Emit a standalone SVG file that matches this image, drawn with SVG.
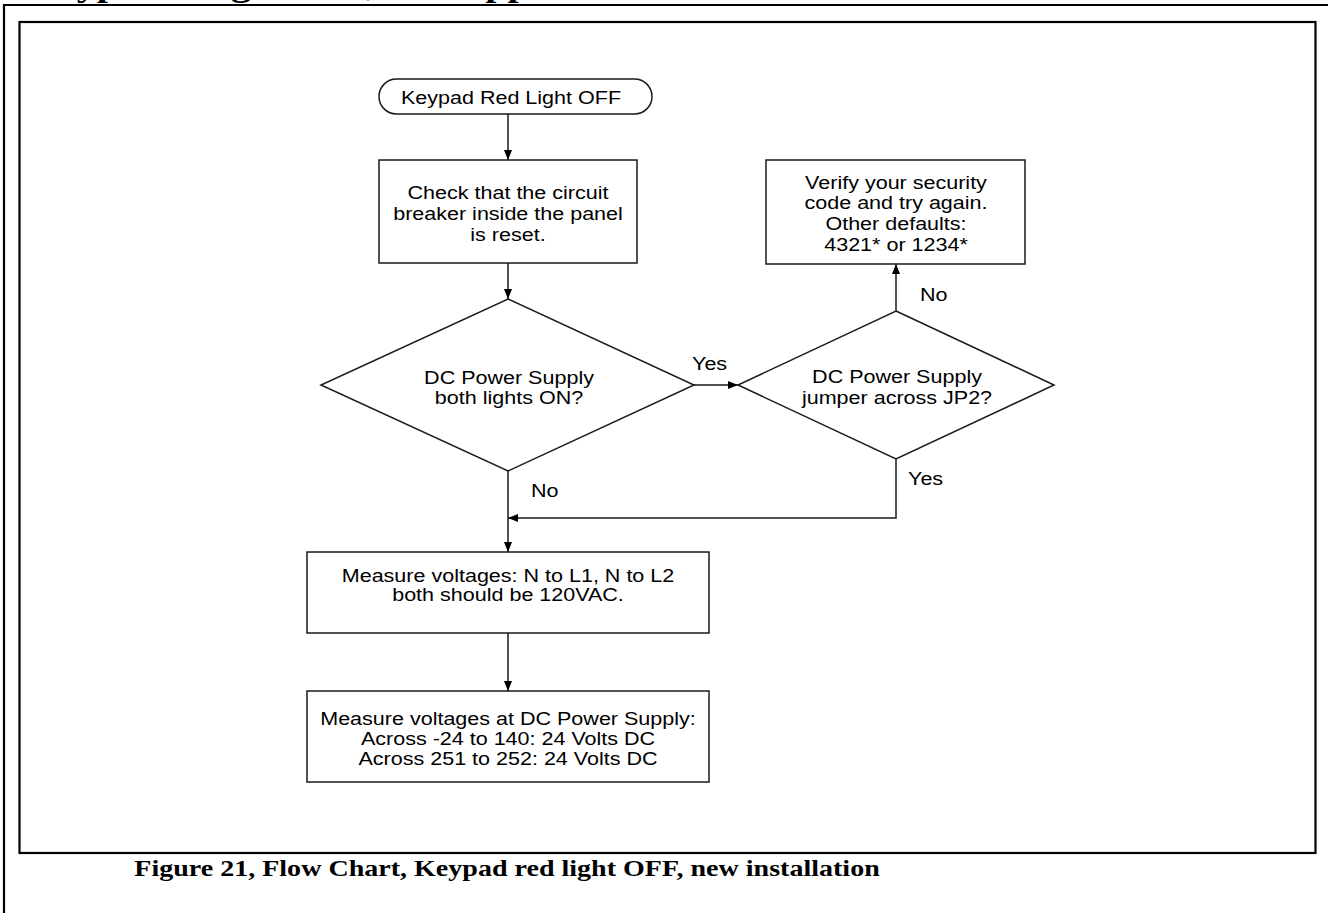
<svg xmlns="http://www.w3.org/2000/svg" width="1328" height="913" viewBox="0 0 1328 913">
<defs>
<style>
.frame{fill:none;stroke:#000;stroke-width:2.2}
.shape{fill:#fff;stroke:#1a1a1a;stroke-width:1.5}
.line{fill:none;stroke:#1a1a1a;stroke-width:1.5}
.t{font-family:"Liberation Sans",Arial,sans-serif;font-size:17.5px;fill:#000;text-anchor:middle}
.lbl{font-family:"Liberation Sans",Arial,sans-serif;font-size:17.5px;fill:#000}
.cap{font-family:"Liberation Serif","Times New Roman",serif;font-weight:bold;font-size:22.8px;fill:#000;text-anchor:middle}
.head{font-family:"Liberation Serif","Times New Roman",serif;font-weight:bold;font-size:32.5px;fill:#000}
</style>
<marker id="arr" viewBox="0 0 10 8" refX="10" refY="4" markerWidth="10" markerHeight="8" markerUnits="userSpaceOnUse" orient="auto">
<path d="M0,0 L10,4 L0,8 z" fill="#000"/>
</marker>
</defs>
<rect width="1328" height="913" fill="#fff"/>
<g transform="matrix(1.23 0 0 1 28 0)"><text class="head" x="0" y="-4">Keypad Diagnostics, new applications</text></g>
<path class="frame" d="M4,913 V5 H1328"/>
<rect class="frame" x="19.5" y="22" width="1296" height="831"/>

<g id="connectors">
<path class="line" d="M508,114 V160" marker-end="url(#arr)"/>
<path class="line" d="M508,263 V299" marker-end="url(#arr)"/>
<path class="line" d="M694,385 H738" marker-end="url(#arr)"/>
<path class="line" d="M896,311 V264" marker-end="url(#arr)"/>
<path class="line" d="M896,459 V518 H508" marker-end="url(#arr)"/>
<path class="line" d="M508,471 V552" marker-end="url(#arr)"/>
<path class="line" d="M508,633 V691" marker-end="url(#arr)"/>
<g transform="matrix(1.23 0 0 1 692 0)"><text class="lbl" x="0" y="370">Yes</text></g>
<g transform="matrix(1.23 0 0 1 920 0)"><text class="lbl" x="0" y="301">No</text></g>
<g transform="matrix(1.23 0 0 1 908 0)"><text class="lbl" x="0" y="485">Yes</text></g>
<g transform="matrix(1.23 0 0 1 531 0)"><text class="lbl" x="0" y="497">No</text></g>
</g>

<g id="start">
<rect class="shape" x="379" y="79" width="273" height="35" rx="17.5" ry="17.5"/>
<g transform="matrix(1.23 0 0 1 511 0)"><text class="t" x="0" y="104">Keypad Red Light OFF</text></g>
</g>
<g id="check-breaker">
<rect class="shape" x="379" y="160" width="258" height="103"/>
<g transform="matrix(1.23 0 0 1 508 0)">
<text class="t" x="0" y="199">Check that the circuit</text>
<text class="t" x="0" y="220">breaker inside the panel</text>
<text class="t" x="0" y="241">is reset.</text>
</g>
</g>
<g id="dc-lights">
<polygon class="shape" points="508,299 694,385 508,471 321,385"/>
<g transform="matrix(1.23 0 0 1 509 0)">
<text class="t" x="0" y="384">DC Power Supply</text>
<text class="t" x="0" y="404">both lights ON?</text>
</g>
</g>
<g id="jp2">
<polygon class="shape" points="896,311 1054,385 896,459 738,385"/>
<g transform="matrix(1.23 0 0 1 897 0)">
<text class="t" x="0" y="383">DC Power Supply</text>
<text class="t" x="0" y="404">jumper across JP2?</text>
</g>
</g>
<g id="verify-code">
<rect class="shape" x="766" y="160" width="259" height="104"/>
<g transform="matrix(1.23 0 0 1 896 0)">
<text class="t" x="0" y="189">Verify your security</text>
<text class="t" x="0" y="209">code and try again.</text>
<text class="t" x="0" y="230">Other defaults:</text>
<text class="t" x="0" y="251">4321* or 1234*</text>
</g>
</g>
<g id="measure-ac">
<rect class="shape" x="307" y="552" width="402" height="81"/>
<g transform="matrix(1.23 0 0 1 508 0)">
<text class="t" x="0" y="582">Measure voltages: N to L1, N to L2</text>
<text class="t" x="0" y="601">both should be 120VAC.</text>
</g>
</g>
<g id="measure-dc">
<rect class="shape" x="307" y="691" width="402" height="91"/>
<g transform="matrix(1.23 0 0 1 508 0)">
<text class="t" x="0" y="725">Measure voltages at DC Power Supply:</text>
<text class="t" x="0" y="745">Across -24 to 140: 24 Volts DC</text>
<text class="t" x="0" y="765">Across 251 to 252: 24 Volts DC</text>
</g>
</g>
<g transform="matrix(1.23 0 0 1 507 0)"><text class="cap" x="0" y="876">Figure 21, Flow Chart, Keypad red light OFF, new installation</text></g>
</svg>
